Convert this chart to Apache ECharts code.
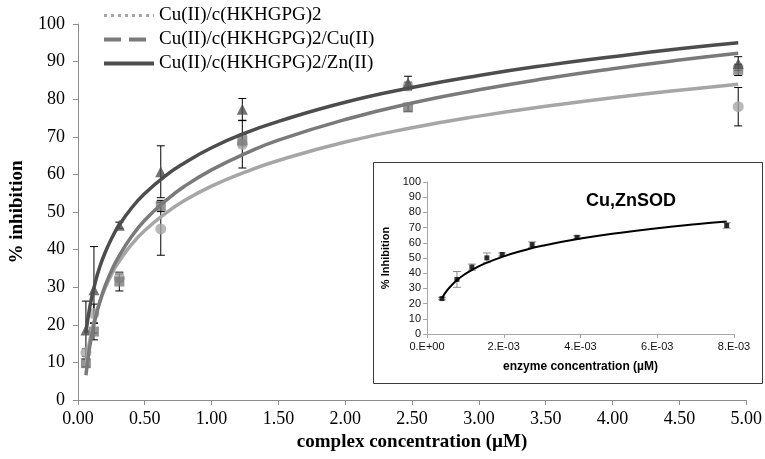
<!DOCTYPE html>
<html>
<head>
<meta charset="utf-8">
<script src="https://cdn.jsdelivr.net/npm/echarts@6/dist/echarts.min.js"></script>
<style>
  html, body { margin: 0; padding: 0; background: #fff; }
  #chart { width: 765px; height: 459px; }
</style>
</head>
<body>
<div id="chart"></div>
<script>
// main chart: complex concentration (uM) vs % inhibition
var conc = [0.06, 0.12, 0.31, 0.62, 1.23, 2.47, 4.94];
var cuY = [12.6, 23, 32.5, 45.5, 68, 83.5, 78];
var cuErr = [1, 2.5, 1, 7, 6.3, 1, 5.1];
var cuCuY = [9.8, 18.2, 31.5, 51.6, 69.1, 77.8, 87.8];
var cuCuErr = [1, 2.2, 2.5, 1.5, 1.5, 1, 1.5];
var cuZnY = [18.6, 29.3, 46.5, 60.7, 77.3, 84.3, 89.5];
var cuZnErr = [7.7, 11.5, 0.8, 6.9, 2.9, 1.8, 1.8];

// trendlines
var fitX = [0.06, 0.08, 0.1, 0.13, 0.16, 0.2, 0.25, 0.3, 0.4, 0.5, 0.65, 0.8, 1, 1.25, 1.5, 2, 2.5, 3, 3.5, 4, 4.5, 4.94];
var cuFit = [9.0, 13.9, 17.7, 22.2, 25.7, 29.5, 33.3, 36.4, 41.3, 45.1, 49.5, 53.1, 56.9, 60.6, 63.7, 68.6, 72.4, 75.5, 78.1, 80.4, 82.4, 84.0];
var cuCuFit = [6.6, 12.2, 16.5, 21.6, 25.6, 30.0, 34.3, 37.8, 43.4, 47.8, 52.8, 56.9, 61.2, 65.5, 69.1, 74.6, 79.0, 82.5, 85.5, 88.1, 90.4, 92.2];
var cuZnFit = [17.8, 22.8, 26.7, 31.3, 35.0, 38.9, 42.8, 46.0, 51.0, 54.9, 59.5, 63.1, 67.1, 71.0, 74.1, 79.2, 83.1, 86.3, 89.0, 91.3, 93.4, 95.0];

var seriesNames = ['Cu(II)/c(HKHGPG)2', 'Cu(II)/c(HKHGPG)2/Cu(II)', 'Cu(II)/c(HKHGPG)2/Zn(II)'];

// inset: Cu,ZnSOD
var sodX = [0.00039, 0.00078, 0.00117, 0.00156, 0.00196, 0.00274, 0.00391, 0.00781];
var sodY = [23.3, 35.9, 44, 50.1, 52.3, 58.8, 63.6, 71.4];
var sodErr = [0.8, 5.2, 2, 3.2, 1, 1.8, 1, 1.8];
var sodFitX = [0.00039, 0.0005, 0.0006, 0.0008, 0.001, 0.00125, 0.0015, 0.002, 0.0025, 0.003, 0.004, 0.005, 0.006, 0.007, 0.00781];
var sodFit = [23.7, 27.9, 30.9, 35.8, 39.5, 43.2, 46.3, 51.1, 54.9, 58.0, 62.8, 66.5, 69.6, 72.2, 74.0];

var light = '#a6a6a6', mid = '#7a7a7a', dark = '#4d4d4d';
var serif = 'Liberation Serif', sans = 'Liberation Sans';

function pairs(xs, ys) {
  return xs.map(function (x, i) { return [x, ys[i]]; });
}

function errorBars(xs, ys, errs, axis, color, cap) {
  return {
    type: 'custom',
    xAxisIndex: axis, yAxisIndex: axis,
    z: 2,
    silent: true,
    encode: { x: 0, y: [1, 2] },
    data: xs.map(function (x, i) { return [x, ys[i] - errs[i], ys[i] + errs[i]]; }),
    renderItem: function (params, api) {
      var lo = api.coord([api.value(0), api.value(1)]);
      var hi = api.coord([api.value(0), api.value(2)]);
      var st = { stroke: color, lineWidth: 1 };
      return {
        type: 'group',
        children: [
          { type: 'line', shape: { x1: lo[0], y1: lo[1], x2: hi[0], y2: hi[1] }, style: st },
          { type: 'line', shape: { x1: hi[0] - cap, y1: hi[1], x2: hi[0] + cap, y2: hi[1] }, style: st },
          { type: 'line', shape: { x1: lo[0] - cap, y1: lo[1], x2: lo[0] + cap, y2: lo[1] }, style: st }
        ]
      };
    }
  };
}

function fitLine(name, xs, ys, color, width, axis) {
  return {
    name: name,
    type: 'line',
    xAxisIndex: axis, yAxisIndex: axis,
    smooth: true,
    symbol: 'none',
    z: 4,
    lineStyle: { color: color, width: width },
    itemStyle: { color: color },
    data: pairs(xs, ys)
  };
}

function points(name, ys, symbol, size, color) {
  return {
    name: name,
    type: 'scatter',
    symbol: symbol,
    symbolSize: size,
    z: 3,
    itemStyle: { color: color },
    data: pairs(conc, ys)
  };
}

var chart = echarts.init(document.getElementById('chart'));

// legend shows only the line sample, no marker
var noMark = { opacity: 0, borderWidth: 0 };

var option = {
  animation: false,
  backgroundColor: '#fff',
  legend: {
    left: 97,
    top: 1,
    orient: 'vertical',
    itemWidth: 50,
    itemHeight: 14,
    itemGap: 5,
    selectedMode: false,
    textStyle: { fontFamily: serif, fontSize: 19, color: '#000', lineHeight: 19 },
    data: [
      { name: seriesNames[0], itemStyle: noMark, lineStyle: { type: [3, 4], width: 3, color: light } },
      { name: seriesNames[1], itemStyle: noMark, lineStyle: { type: [17, 8], width: 4, color: mid } },
      { name: seriesNames[2], itemStyle: noMark, lineStyle: { type: 'solid', width: 4, color: dark } }
    ]
  },
  graphic: [{
    type: 'rect',
    shape: { x: 373.5, y: 162.5, width: 389, height: 221 },
    style: { fill: 'transparent', stroke: '#3a3a3a', lineWidth: 1 },
    z: 1
  }, {
    type: 'text',
    x: 631, y: 201,
    style: {
      text: 'Cu,ZnSOD', fill: '#000', align: 'center', verticalAlign: 'middle',
      font: 'bold 18px "Liberation Sans"'
    },
    z: 5
  }],
  grid: [
    { left: 65, right: 14, top: 24, bottom: 59 },
    { left: 427, right: 31, top: 182, bottom: 125 }
  ],
  xAxis: [{
    type: 'value', gridIndex: 0,
    min: 0, max: 5, interval: 0.5,
    name: 'complex concentration (\u00b5M)',
    nameLocation: 'middle', nameGap: 33,
    nameTextStyle: { fontFamily: serif, fontSize: 19, fontWeight: 'bold', color: '#000' },
    axisLine: { lineStyle: { color: '#8c8c8c' } },
    axisTick: { length: 5, lineStyle: { color: '#8c8c8c' } },
    axisLabel: { margin: 10, fontFamily: serif, fontSize: 18, color: '#000',
      formatter: function (v) { return v.toFixed(2); } },
    splitLine: { show: false }
  }, {
    type: 'value', gridIndex: 1,
    min: 0, max: 0.008, interval: 0.002,
    name: 'enzyme concentration (\u00b5M)',
    nameLocation: 'middle', nameGap: 27,
    nameTextStyle: { fontFamily: sans, fontSize: 12, fontWeight: 'bold', color: '#000' },
    axisLine: { lineStyle: { color: '#a6a6a6' } },
    axisTick: { length: 4, lineStyle: { color: '#a6a6a6' } },
    axisLabel: { margin: 7, fontFamily: sans, fontSize: 11, color: '#111',
      formatter: function (v) {
        var n = Math.round(v * 1000);
        return n === 0 ? '0.E+00' : n + '.E-03';
      } },
    splitLine: { show: false }
  }],
  yAxis: [{
    type: 'value', gridIndex: 0,
    min: 0, max: 100, interval: 10,
    name: '% inhibition',
    nameLocation: 'middle', nameGap: 40,
    nameTextStyle: { fontFamily: serif, fontSize: 19, fontWeight: 'bold', color: '#000' },
    axisLine: { show: true, lineStyle: { color: '#8c8c8c' } },
    axisTick: { show: true, length: 5, lineStyle: { color: '#8c8c8c' } },
    axisLabel: { margin: 13, fontFamily: serif, fontSize: 18, color: '#000' },
    splitLine: { show: false }
  }, {
    type: 'value', gridIndex: 1,
    min: 0, max: 100, interval: 10,
    name: '% Inhibition',
    nameLocation: 'middle', nameGap: 36,
    nameTextStyle: { fontFamily: sans, fontSize: 11, fontWeight: 'bold', color: '#000' },
    axisLine: { show: true, lineStyle: { color: '#a6a6a6' } },
    axisTick: { show: true, length: 4, lineStyle: { color: '#a6a6a6' } },
    axisLabel: { margin: 6, fontFamily: sans, fontSize: 11, color: '#111' },
    splitLine: { show: false }
  }],
  series: [
    errorBars(conc, cuY, cuErr, 0, '#000', 4),
    errorBars(conc, cuCuY, cuCuErr, 0, '#000', 4),
    errorBars(conc, cuZnY, cuZnErr, 0, '#000', 4),
    points('Cu pts', cuY, 'circle', 11, light),
    points('CuCu pts', cuCuY, 'rect', 10, mid),
    points('CuZn pts', cuZnY, 'triangle', 11, dark),
    fitLine(seriesNames[0], fitX, cuFit, light, 3.5, 0),
    fitLine(seriesNames[1], fitX, cuCuFit, mid, 3.5, 0),
    fitLine(seriesNames[2], fitX, cuZnFit, dark, 3.5, 0),
    errorBars(sodX, sodY, sodErr, 1, '#8c8c8c', 4),
    {
      name: 'SOD pts',
      type: 'scatter',
      xAxisIndex: 1, yAxisIndex: 1,
      symbol: 'rect', symbolSize: 5,
      z: 3,
      itemStyle: { color: '#000' },
      data: pairs(sodX, sodY)
    },
    fitLine('SOD fit', sodFitX, sodFit, '#000', 2, 1)
  ]
};

chart.setOption(option);
</script>
</body>
</html>
